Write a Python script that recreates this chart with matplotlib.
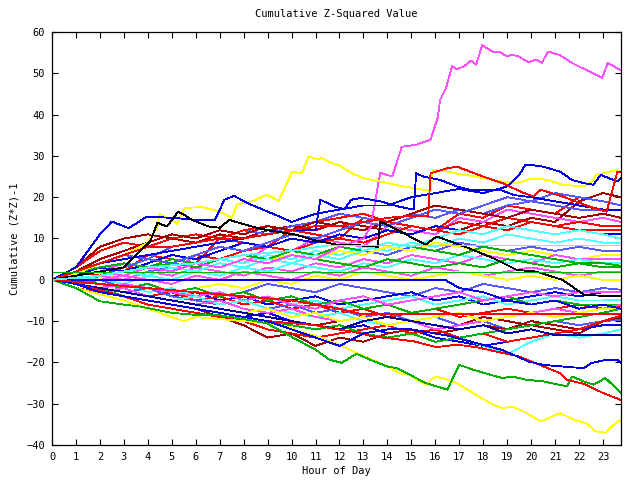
import matplotlib
matplotlib.use("Agg")
import matplotlib.pyplot as plt

RED = '#ff0000'; GRN = '#00b000'; BLU = '#0000e8'; LBL = '#5858ff'; MAG = '#ff50ff'
CYN = '#50ffff'; DRD = '#a00000'; YEL = '#ffff00'; BLK = '#000000'; NAV = '#0000a0'

hours = list(range(24)) + [23.75]

# traced lines (own x values)
mag_top_x = [0, 1, 2, 3, 4, 5, 6, 7, 8, 9, 10, 11, 12, 13, 13.3, 13.7, 14.2, 14.6, 15.2, 15.8,
             16.1, 16.2, 16.45, 16.7, 16.9, 17.2, 17.5, 17.7, 17.96, 18.2, 18.45, 18.7, 18.96,
             19.2, 19.45, 19.9, 20.2, 20.45, 20.7, 21.2, 21.7, 22.4, 22.96, 23.2, 23.75]
mag_top_y = [0, 1, 2, 1, 3, 2, 4, 3, 5, 4, 6, 5, 8, 10, 12.8, 25.9, 25, 32.2, 32.7, 33.9,
             39.2, 43.6, 46.5, 51.7, 51.0, 51.7, 53.1, 52.1, 56.8, 55.9, 55.1, 55.2, 54.1,
             54.5, 54.1, 52.7, 53.3, 52.5, 55.3, 54.4, 52.5, 50.5, 48.9, 52.5, 50.7]

yel_top_x = [0, 1, 2, 3, 4, 4.4, 4.48, 4.87, 5.22, 5.54, 6.26, 6.82, 7.23, 7.5, 7.72, 8.35, 8.97,
             9.46, 10.02, 10.43, 10.71, 11.06, 11.27, 11.69, 11.96, 12.52, 13.0, 13.7, 14.5, 15.8,
             15.9, 16.5, 17.0, 17.7, 18.5, 19.4, 20.0, 20.7, 21.3, 22.2, 22.6, 22.7, 23.6, 23.75]
yel_top_y = [0, 1.5, 4, 6, 9, 12.9, 15.9, 14.9, 13.6, 17.4, 17.6, 16.8, 15.9, 15.0, 18.2, 19.0, 20.6,
             19.1, 26.2, 25.8, 29.9, 29.2, 29.5, 28.2, 27.8, 25.8, 24.6, 23.8, 22.8, 21.5,
             26.6, 26.2, 25.6, 25, 24, 23.4, 24.5, 24.2, 23, 22.6, 24.2, 25.4, 26.6, 26.2]

yel_bot_x = [0, 1, 2, 3, 4, 5, 5.5, 6, 7, 8, 9, 10, 10.2, 11, 11.6, 12, 12.7, 13.4, 14, 14.5, 14.9,
             15.6, 16, 16.4, 16.9, 17.45, 18.3, 18.8, 19.2, 19.7, 20.4, 21.2, 21.8, 22.3, 22.7,
             23.1, 23.6, 23.75]
yel_bot_y = [0, -2, -3.5, -5, -7, -9, -10, -9, -9.5, -10, -10.5, -11.5, -12.5, -13.5, -14.9, -15.7,
             -17.7, -19.4, -21, -22.6, -23, -25.4, -23.4, -24, -25, -27, -29.9, -31.1, -30.7,
             -31.9, -34.3, -32.3, -33.9, -34.7, -36.7, -37, -34.3, -34.0]

grn_bot_x = [0, 1, 2, 3, 3.7, 5, 6, 7, 8, 8.96, 10.35, 11, 11.6, 12.1, 12.7, 13.3, 14, 14.4, 15.6,
             16.5, 17, 17.6, 18.3, 18.8, 19.2, 19.8, 20.5, 21.5, 21.7, 22.2, 22.6, 23.1, 23.75]
grn_bot_y = [0, -2, -5.2, -6, -6.5, -8, -8.5, -8.6, -9.5, -10.5, -14.9, -16.9, -19.4, -20.1, -17.9,
             -19.4, -21, -21.4, -25, -26.6, -20.6, -21.8, -23, -23.8, -23.4, -24.2, -24.6, -25.8,
             -23.4, -24.6, -25.4, -23.8, -27.4]

red_bot_x = [0, 1, 2, 3, 4, 5, 6, 7, 8, 9, 10, 11, 11.6, 12.5, 13.4, 15.1, 16.05, 16.9, 17.7,
             18.8, 19.4, 20.2, 21.2, 21.5, 22.2, 23.0, 23.75]
red_bot_y = [0, -1, -2.5, -4, -5, -6, -7, -8, -9, -10, -10.5, -11, -11.7, -12.5, -13.7, -14.9,
             -16.3, -15.7, -16.3, -17.7, -18.4, -20.2, -22.6, -24.2, -25.2, -27.4, -29.1]

blu_low_x = [0, 1, 2, 3, 4, 5, 6, 7, 8, 9, 10, 11, 12, 13, 14, 15, 15.5, 16.5, 17.5, 18.8, 19.9,
             20.5, 21.3, 22.2, 22.5, 23.1, 23.6, 23.75]
blu_low_y = [0, -1, -3, -4, -5, -6, -7, -8, -9, -10, -12, -14, -16, -13, -12, -12, -12.5, -13.5,
             -15, -17, -19.8, -20.6, -21, -21.4, -20.2, -19.4, -19.4, -20.2]

blu_top_x = [0, 1, 2, 2.5, 3.2, 3.96, 5, 6.1, 6.8, 7.2, 7.6, 8.3, 9.5, 10, 11, 12, 13, 14, 15, 16,
             17, 18, 19, 19.5, 19.75, 20, 20.5, 21.2, 21.7, 22.2, 22.6, 22.9, 23.6, 23.75]
blu_top_y = [0, 3, 11, 14.1, 12.5, 15.3, 15, 14.5, 14.5, 19.4, 20.3, 18.2, 15.3, 14, 16, 17, 18,
             18, 20, 21, 22, 21, 22.6, 25.4, 27.8, 27.8, 27.4, 26.2, 24.2, 23.4, 23, 25.4, 23.8, 24.6]

blu2_x = [0, 1, 2, 3, 4, 5, 6, 7, 8, 9, 10, 11, 11.2, 11.8, 12.2, 12.5, 12.9, 13.7, 14.5, 15.1,
          15.2, 15.5, 16.2, 16.9, 17.45, 18.7, 19.3, 20, 21, 22, 23, 23.75]
blu2_y = [0, 2, 4, 5, 6, 7, 8, 9, 10, 11, 12, 12, 19.4, 17.7, 17.1, 19.4, 19.8, 19, 17.7, 17,
          25.8, 25, 24.2, 22.6, 21.8, 21.8, 20.5, 20, 19, 18, 17, 17]

red_spk_x = [0, 1, 2, 3, 4, 5, 6, 7, 8, 9, 10, 11, 12, 13, 14, 15, 15.7, 15.8, 16.5, 16.9, 17.45,
             18, 18.8, 19.7, 20.1, 20.4, 21.3, 22.45, 23.15, 23.6, 23.75]
red_spk_y = [0, 2, 4, 6, 8, 8, 9, 10, 10, 11, 12, 13, 13, 14, 15, 15.5, 15.4, 25.8, 27, 27.4, 26.2,
             25, 23.4, 21, 20.2, 21.8, 20.2, 17.7, 16.5, 26.2, 26]

blk_x = [0, 1, 2, 3, 3.5, 4.1, 4.4, 4.8, 5.26, 5.54, 5.84, 6.54, 7.0, 7.4, 8.35, 9, 10.2, 11.0,
         11.9, 12.5, 13.6, 13.7, 14.4, 15.6, 16.05, 17.2, 18.4, 19.4, 20.2, 21.3, 22.2, 23.3, 23.75]
blk_y = [0, 1, 2, 3, 6, 9.3, 13.8, 12.9, 16.5, 15.7, 14.5, 12.9, 12.6, 14.5, 12.9, 12, 10.9, 9.5,
         8.5, 8.5, 8, 14.1, 12.1, 8.5, 10.5, 8.1, 5.3, 2.4, 2, 0, -3.6, -4, -4]

grn_flat_x = [0, 23.75]
grn_flat_y = [1.9, 1.9]
blu_flat_x = [0, 16.4, 17, 18, 19, 20, 21, 22, 23, 23.75]
blu_flat_y = [0, 0, -2, -3, -5, -6, -5, -7, -6, -7]
red_flat_x = [0, 2, 4, 6, 8, 10, 12, 12.9, 23.75]
red_flat_y = [0, -1, -2, -3, -4, -5, -7, -8.3, -8.3]
cyn_flat_x = [0, 2, 4, 6, 8, 10, 11.5, 23.75]
cyn_flat_y = [0, 1, 3, 4, 6, 7, 8.3, 8.3]

# bundle lines, hourly values (0..23, 23.75)
u1 = [0, 1, 3, 2, 6, 5, 4, 10, 9, 8, 12, 11, 10, 15, 14, 13, 12, 16, 15, 18, 17, 16, 20, 19, 18]
u2 = [0, 3, 8, 10, 11, 10, 9, 11, 10, 12, 13, 12, 14, 13, 12, 11, 13, 12, 14, 13, 15, 14, 19, 21, 20]
u3 = [0, 2, 4, 6, 5, 8, 9, 10, 12, 11, 13, 14, 16, 15, 14, 16, 15, 17, 16, 18, 19, 18, 17, 17, 17]
u4 = [0, 1, 2, 4, 3, 2, 6, 5, 4, 8, 7, 10, 9, 8, 13, 12, 11, 15, 14, 17, 16, 15, 14, 15, 14]
u5 = [0, 2, 1, 3, 5, 4, 6, 5, 7, 8, 7, 9, 10, 9, 11, 13, 12, 11, 13, 12, 14, 13, 12, 12, 12]
u6 = [0, 1, 3, 2, 4, 6, 5, 7, 9, 8, 10, 9, 11, 10, 12, 11, 13, 12, 11, 13, 12, 11, 12, 11, 11]
u7 = [0, 1, 2, 1, 3, 2, 4, 5, 4, 6, 5, 7, 6, 8, 7, 9, 8, 10, 9, 11, 10, 9, 10, 9, 9]
u8 = [0, -1, 1, 0, 2, 3, 2, 4, 3, 5, 4, 6, 5, 7, 6, 8, 7, 9, 8, 7, 8, 7, 8, 7, 7]
u9 = [0, 1, 0, 2, 1, 3, 2, 4, 3, 5, 6, 5, 7, 6, 8, 7, 9, 8, 7, 6, 7, 6, 5, 6, 6]
u10 = [0, 0, 1, 0, 2, 1, 3, 2, 1, 3, 2, 4, 3, 5, 4, 6, 5, 4, 6, 5, 4, 6, 5, 5, 5]
u11 = [0, 1, 0, -1, 1, 0, 2, 1, 3, 2, 4, 3, 2, 4, 3, 5, 4, 6, 5, 4, 5, 4, 5, 4, 4]
u12 = [0, 2, 3, 4, 3, 5, 4, 3, 5, 4, 6, 5, 4, 3, 5, 4, 3, 4, 3, 5, 4, 3, 4, 3, 3]
u13 = [0, -1, 0, 1, 0, -1, 1, 0, 2, 1, 0, 2, 1, 3, 2, 1, 3, 2, 1, 2, 3, 2, 1, 2, 2]
u14 = [0, -1, -2, -1, -2, -3, -2, -1, -2, 0, -1, 1, 0, 2, 1, 0, 1, 2, 1, 0, 1, 0, 1, 0, 0]
u15 = [0, 3, 7, 9, 8, 10, 11, 10, 12, 13, 12, 14, 15, 16, 14, 13, 12, 14, 13, 15, 14, 13, 14, 13, 13]
u16 = [0, 2, 5, 7, 9, 11, 10, 12, 11, 13, 12, 14, 13, 12, 14, 16, 18, 17, 16, 15, 17, 16, 15, 16, 15]
u17 = [0, 1, 2, 3, 5, 4, 6, 8, 7, 9, 11, 10, 12, 14, 13, 15, 17, 16, 18, 20, 19, 21, 20, 19, 18]
u18 = [0, 1, 2, 1, 3, 4, 3, 5, 6, 5, 7, 6, 8, 7, 9, 8, 7, 6, 8, 7, 6, 5, 4, 4, 3.4]
u19 = [0, 0, 1, 2, 1, 3, 2, 4, 3, 5, 4, 6, 5, 7, 9, 8, 10, 12, 11, 13, 12, 11, 12, 11, 10]
l1 = [0, -1, 0, -2, -1, -3, -2, -4, -3, -1, -2, -3, -1, -2, -3, -4, -2, -3, -1, -2, -3, -2, -3, -2, -2.4]
l2 = [0, -1, -2, -3, -2, -4, -3, -5, -4, -6, -5, -4, -6, -5, -4, -3, -5, -4, -6, -5, -4, -3, -4, -3, -3]
l3 = [0, -1, -2, -1, -3, -2, -4, -3, -5, -4, -6, -5, -7, -6, -5, -4, -6, -5, -4, -6, -5, -4, -5, -5, -4.8]
l4 = [0, -1, -2, -3, -4, -3, -5, -4, -6, -5, -7, -6, -8, -7, -9, -8, -7, -9, -8, -7, -8, -7, -6, -7, -6.3]
l5 = [0, -1, -2, -3, -4, -5, -6, -7, -8, -9, -10, -11, -10, -9, -11, -10, -12, -11, -9, -10, -11, -12, -13, -10, -9.2]
l6 = [0, -1, -2, -3, -2, -4, -5, -6, -5, -7, -6, -8, -7, -9, -8, -10, -9, -11, -10, -12, -11, -10, -11, -10, -9.7]
l7 = [0, -1, -3, -4, -5, -6, -7, -8, -9, -8, -10, -11, -12, -11, -13, -12, -14, -15, -16, -15, -14, -13, -12, -11, -11]
l8 = [0, 0, -1, -2, -1, -3, -2, -4, -3, -5, -4, -6, -5, -7, -6, -8, -7, -6, -5, -4, -6, -5, -6, -6, -6]
l9 = [0, -1, -2, -1, -2, -3, -4, -3, -5, -4, -6, -7, -5, -4, -6, -5, -4, -3, -5, -4, -3, -4, -3, -3, -3]
l10 = [0, -1, -2, -3, -4, -5, -4, -6, -5, -7, -8, -9, -8, -10, -11, -10, -12, -14, -16, -18, -15, -13, -14, -13, -12]
l11 = [0, -2, -3, -4, -5, -6, -7, -9, -11, -14, -13, -16, -14, -15, -13, -12, -13, -12, -11, -12, -10, -11, -12, -10, -9]
l12 = [0, -2, -3, -4, -6, -7, -8, -9, -10, -12, -13, -14, -13, -12, -11, -13, -12, -14, -13, -15, -14, -13, -12, -10, -8.7]
l13 = [0, -1, -3, -2, -4, -5, -6, -5, -7, -8, -7, -9, -10, -9, -11, -10, -12, -11, -10, -9, -8, -7, -8, -7, -6]
l14 = [0, -1, -2, -3, -4, -5, -6, -7, -8, -7, -9, -8, -10, -9, -11, -10, -9, -8, -10, -9, -8, -9, -8, -7, -7]
l15 = [0, -1, -2, -4, -5, -6, -7, -8, -9, -10, -11, -12, -11, -13, -14, -13, -15, -14, -13, -12, -11, -10, -9, -8, -7]
nav = [0, -1, -2, -3, -4, -5, -6, -7, -8, -9, -10, -11, -12, -10, -9, -10, -11, -12, -11, -13, -12, -13.4, -13.4, -13.4, -13.4]

bundle = [(u1, RED), (u2, DRD), (u3, LBL), (u4, MAG), (u5, RED), (u6, BLU), (u7, CYN),
          (u8, LBL), (u9, YEL), (u10, MAG), (u11, CYN), (u12, GRN), (u13, MAG), (u14, YEL),
          (u15, RED), (u16, DRD), (u17, LBL), (u18, GRN), (u19, CYN),
          (l1, LBL), (l2, BLU), (l3, CYN), (l4, RED), (l5, DRD), (l6, LBL), (l7, BLU), (l8, GRN),
          (l9, MAG), (l10, CYN), (l11, DRD), (l12, RED), (l13, MAG), (l14, YEL), (l15, GRN),
          (nav, NAV)]

traced = [(mag_top_x, mag_top_y, MAG), (yel_top_x, yel_top_y, YEL), (yel_bot_x, yel_bot_y, YEL),
          (grn_bot_x, grn_bot_y, GRN), (red_bot_x, red_bot_y, RED), (blu_low_x, blu_low_y, BLU),
          (blu_top_x, blu_top_y, BLU), (blu2_x, blu2_y, BLU), (red_spk_x, red_spk_y, RED),
          (blk_x, blk_y, BLK), (grn_flat_x, grn_flat_y, GRN), (blu_flat_x, blu_flat_y, BLU),
          (red_flat_x, red_flat_y, RED), (cyn_flat_x, cyn_flat_y, CYN)]

plt.rcParams['font.family'] = 'DejaVu Sans Mono'
fig = plt.figure(figsize=(6.4, 4.8), dpi=100)
ax = fig.add_axes([52 / 640, 35 / 480, 569 / 640, 413 / 480])

for vals, col in bundle:
    ax.plot(hours, vals, color=col, lw=0.6, antialiased=False)
for xs, ys, col in traced:
    ax.plot(xs, ys, color=col, lw=0.6, antialiased=False)

ax.set_xlim(0, 23.75)
ax.set_ylim(-40, 60)
ax.set_xticks(range(24))
ax.set_yticks(range(-40, 61, 10))
ax.tick_params(direction='in', length=4.5, width=0.8, top=True, right=True,
               labelsize=7.5, pad=5)
for s in ax.spines.values():
    s.set_linewidth(0.9)
ax.set_title('Cumulative Z-Squared Value', fontsize=7.5, pad=11)
ax.set_xlabel('Hour of Day', fontsize=7.5, labelpad=3)
ax.set_ylabel('Cumulative (Z*Z)-1', fontsize=7.5, labelpad=5)

fig.savefig('out.png', dpi=100)
